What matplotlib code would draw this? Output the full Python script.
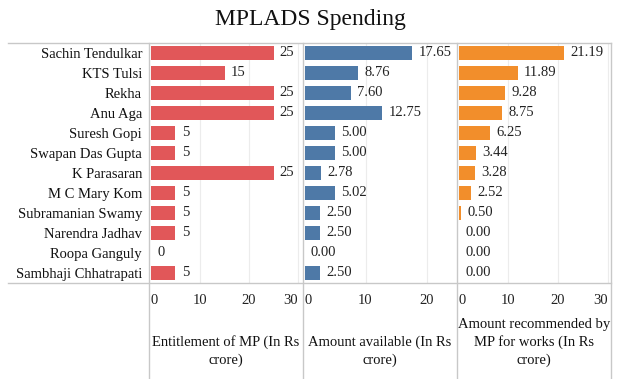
import matplotlib.pyplot as plt
from matplotlib.lines import Line2D

names = ['Sachin Tendulkar', 'KTS Tulsi', 'Rekha', 'Anu Aga', 'Suresh Gopi',
         'Swapan Das Gupta', 'K Parasaran', 'M C Mary Kom', 'Subramanian Swamy',
         'Narendra Jadhav', 'Roopa Ganguly', 'Sambhaji Chhatrapati']
entitlement = [25, 15, 25, 25, 5, 5, 25, 5, 5, 5, 0, 5]
available = [17.65, 8.76, 7.60, 12.75, 5.00, 5.00, 2.78, 5.02, 2.50, 2.50, 0.00, 2.50]
recommended = [21.19, 11.89, 9.28, 8.75, 6.25, 3.44, 3.28, 2.52, 0.50, 0.00, 0.00, 0.00]

titles = ['Entitlement of MP (In Rs\ncrore)',
          'Amount available (In Rs\ncrore)',
          'Amount recommended by\nMP for works (In Rs\ncrore)']

plt.rcParams['font.family'] = 'Liberation Serif'

W, H = 620, 379
fig = plt.figure(figsize=(W / 100, H / 100), dpi=100)

def fx(px):
    return px / W

def fy(py):
    return 1 - py / H

top, bot = 43, 283
fs = 10.5
panels = [
    (149, entitlement, '#E15759', (-0.4, 31.0), [0, 10, 20, 30], '{:.0f}'),
    (303, available, '#4E79A7', (-0.25, 25.0), [0, 10, 20], '{:.2f}'),
    (457, recommended, '#F28E2B', (-0.4, 30.7), [0, 10, 20, 30], '{:.2f}'),
]
grid_c = '#ececec'
line_c = '#c8c8c8'

for i, (x0, vals, col, xl, ticks, fmt) in enumerate(panels):
    ax = fig.add_axes([fx(x0), fy(bot), fx(154), (bot - top) / H])
    ypos = list(range(len(names)))
    ax.barh(ypos, vals, height=0.72, color=col, zorder=2)
    for y, v in zip(ypos, vals):
        ax.annotate(fmt.format(v), (v, y), xytext=(4.5, 0), textcoords='offset points',
                    va='center', ha='left', fontsize=fs, color='#222222', zorder=3)
    ax.set_xlim(*xl)
    ax.set_ylim(len(names) - 0.5, -0.5)
    for t in ticks[1:]:
        ax.axvline(t, color=grid_c, lw=0.8, zorder=1)
    for s in ax.spines.values():
        s.set_visible(False)
    ax.set_yticks([])
    ax.set_xticks(ticks)
    ax.tick_params(axis='x', length=0, labelsize=fs, pad=8, labelcolor='#222222')
    labs = ax.get_xticklabels()
    labs[0].set_horizontalalignment('left')
    if ticks[-1] >= xl[1] - 2:
        labs[-1].set_horizontalalignment('right')
    if i == 0:
        ax.set_yticks(ypos)
        ax.set_yticklabels(names, fontsize=fs, color='#111111')
        ax.tick_params(axis='y', length=0, pad=5)
    fig.text(fx(x0 + 77), fy(367), titles[i], ha='center', va='bottom',
             fontsize=fs, color='#111111', linespacing=1.4)

# frame lines
for y in (top, bot):
    fig.add_artist(Line2D([fx(8), fx(611)], [fy(y), fy(y)], color=line_c, lw=1))
for x in (149, 303, 457, 611):
    fig.add_artist(Line2D([fx(x), fx(x)], [fy(top), fy(379)], color=line_c, lw=1))

fig.text(0.5, fy(20), 'MPLADS Spending', ha='center', va='center', fontsize=17, color='#111111')

fig.savefig('out.png', dpi=100)
